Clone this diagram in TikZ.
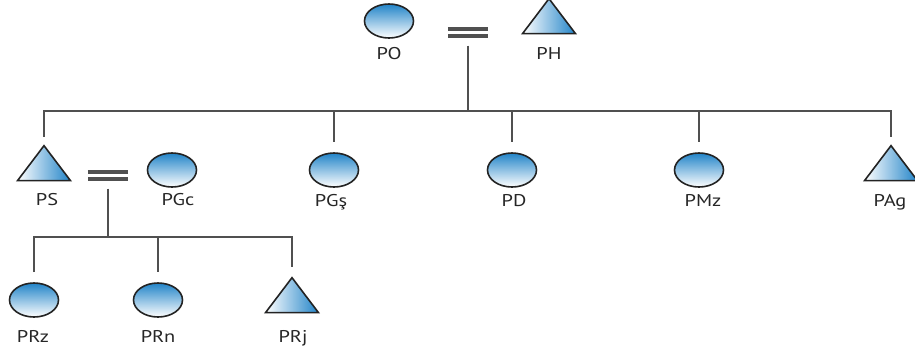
\documentclass[tikz,border=0pt]{standalone}
\usepackage{fontspec}
\setmainfont{PT Sans}[FakeStretch=1.2]
\usetikzlibrary{shapes.geometric}
\definecolor{kinblue}{RGB}{34,132,200}
\definecolor{kinline}{RGB}{80,80,80}
\definecolor{kinedge}{RGB}{35,35,35}
\begin{document}
\begin{tikzpicture}[x=1pt,y=-1pt,
  female/.style={ellipse, draw=kinedge, line width=1.6pt, inner sep=0pt,
    minimum width=49pt, minimum height=34pt, top color=kinblue, bottom color=white},
  male/.style={isosceles triangle, isosceles triangle stretches, shape border rotate=90,
    draw=kinedge, line width=1.6pt, inner sep=0pt, minimum width=53pt, minimum height=35pt,
    left color=white, right color=kinblue},
  tag/.style={font=\fontsize{17}{17}\selectfont, text=black!85, anchor=base, inner sep=0pt},
  bond/.style={minimum width=40pt, minimum height=0pt, inner sep=0pt},
  bars/.style={draw=kinline, line width=4pt, double=white, double distance=2.2pt},
  kin/.style={draw=kinline, line width=2.1pt}]
\useasboundingbox (0,0) rectangle (915,354);

% generation I
\node[female] (PO) at (389,21) {};
\node[male]   (PH) at (549,20.5) {};
\node[bond]   (eq1) at (468,32.5) {};
\draw[bars] (eq1.west) -- (eq1.east);
\node[tag] (PO-l) at (389,59) {PO};
\node[tag] (PH-l) at (549,59) {PH};

% generation II
\node[male]   (PS)  at (44,167.5) {};
\node[female] (PGc) at (172,170) {};
\node[female] (PGs) at (334,170) {};
\node[female] (PD)  at (512,170) {};
\node[female] (PMz) at (699,170) {};
\node[male]   (PAg) at (891,167.5) {};
\node[bond]   (eq2) at (108,175.5) {};
\draw[bars] (eq2.west) -- (eq2.east);
\node[tag] (PS-l)  at (47,205) {PS};
\node[tag] (PGc-l) at (178,205) {PGc};
\node[tag] (PGs-l) at (331,206) {PGş};
\node[tag] (PD-l)  at (514,206) {PD};
\node[tag] (PMz-l) at (703,206) {PMz};
\node[tag] (PAg-l) at (890,206) {PAg};

% generation III
\node[female] (PRz) at (34,300) {};
\node[female] (PRn) at (158,300) {};
\node[male]   (PRj) at (292,299.5) {};
\node[tag] (PRz-l) at (33,342) {PRz};
\node[tag] (PRn-l) at (158,342) {PRn};
\node[tag] (PRj-l) at (293,342) {PRj};

% sibship lines
\coordinate (fam1) at (468,111);
\coordinate (fam2) at (108,237);
\draw[kin, shorten <=13pt] (eq1.south) -- (fam1);
\draw[kin] ([yshift=7pt]PS.north) |- (fam1) -| ([yshift=7pt]PAg.north);
\draw[kin] (PGs.north |- fam1) -- ([yshift=10pt]PGs.north);
\draw[kin] (PD.north |- fam1)  -- ([yshift=10pt]PD.north);
\draw[kin] (PMz.north |- fam1) -- ([yshift=10pt]PMz.north);

\draw[kin, shorten <=13pt] (eq2.south) -- (fam2);
\draw[kin] ([yshift=10pt]PRz.north) |- (fam2) -| ([yshift=9pt]PRj.north);
\draw[kin] (PRn.north |- fam2) -- ([yshift=10pt]PRn.north);
\end{tikzpicture}
\end{document}
